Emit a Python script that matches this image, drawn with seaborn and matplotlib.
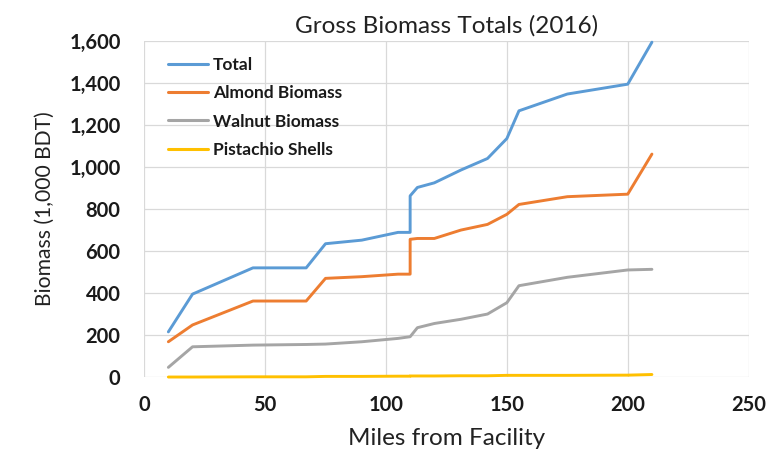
import pandas as pd
import matplotlib.pyplot as plt
import seaborn as sns

# distances (miles) - 110 appears twice for the step
miles = [10, 20, 45, 67, 75, 90, 105, 110, 110, 113, 120, 131, 142, 150, 155, 175, 200, 210]
total = [215, 395, 520, 520, 635, 652, 689, 689, 863, 903, 925, 986, 1041, 1136, 1268, 1348, 1395, 1595]
almond = [168, 248, 362, 362, 470, 478, 490, 490, 656, 660, 660, 700, 727, 775, 822, 859, 871, 1062]
walnut = [46, 144, 152, 155, 157, 168, 184, 192, 192, 235, 255, 275, 300, 354, 435, 475, 510, 513]
pistachio = [0, 0, 1, 1, 3, 3, 4, 4, 5, 5, 5, 6, 6, 8, 8, 8, 9, 12]

series = {
    "Total": total,
    "Almond Biomass": almond,
    "Walnut Biomass": walnut,
    "Pistachio Shells": pistachio,
}
colors = {
    "Total": "#5B9BD5",
    "Almond Biomass": "#ED7D31",
    "Walnut Biomass": "#A5A5A5",
    "Pistachio Shells": "#FFC000",
}

rows = []
for name, vals in series.items():
    for m, v in zip(miles, vals):
        rows.append({"Miles": m, "Biomass": v, "Series": name})
df = pd.DataFrame(rows)

sns.set_theme(style="whitegrid")
plt.rcParams['font.family'] = ['Lato', 'DejaVu Sans']

fig = plt.figure(figsize=(7.71, 4.57), dpi=100)
ax = fig.add_axes([0.187, 0.175, 0.784, 0.735])

sns.lineplot(data=df, x="Miles", y="Biomass", hue="Series", palette=colors,
             estimator=None, sort=False, units="Series", linewidth=2.1, ax=ax)
for ln in ax.get_lines():
    ln.set_clip_on(False)

ax.set_xlim(0, 250)
ax.set_ylim(0, 1600)
ax.set_xticks([0, 50, 100, 150, 200, 250])
ax.set_yticks(range(0, 1601, 200))
ax.set_yticklabels([f"{v:,}" for v in range(0, 1601, 200)])
ax.tick_params(axis="both", labelsize=14.5, length=0, colors="#1a1a1a")
ax.tick_params(axis="y", pad=17)
ax.tick_params(axis="x", pad=13)
for lbl in ax.get_xticklabels() + ax.get_yticklabels():
    lbl.set_fontweight("bold")
for s in ax.spines.values():
    s.set_visible(False)
ax.grid(True, color="#D9D9D9", linewidth=0.9)

ax.set_xlabel("Miles from Facility", fontsize=17.5, color="#222222", labelpad=9)
ax.set_ylabel("Biomass (1,000 BDT)", fontsize=15.2, color="#222222", labelpad=10)
ax.set_title("Gross Biomass Totals (2016)", fontsize=17.5, color="#222222", pad=6)

leg = ax.legend(loc="upper left", bbox_to_anchor=(0.04, 0.952), borderaxespad=0,
                borderpad=0, frameon=False, fontsize=12.5, handlelength=2.3,
                handletextpad=0.25, labelspacing=0.7)
for t in leg.get_texts():
    t.set_fontweight("bold")
    t.set_color("#1a1a1a")
for h in leg.get_lines():
    h.set_linewidth(2.2)

fig.savefig("out.png", dpi=100)
